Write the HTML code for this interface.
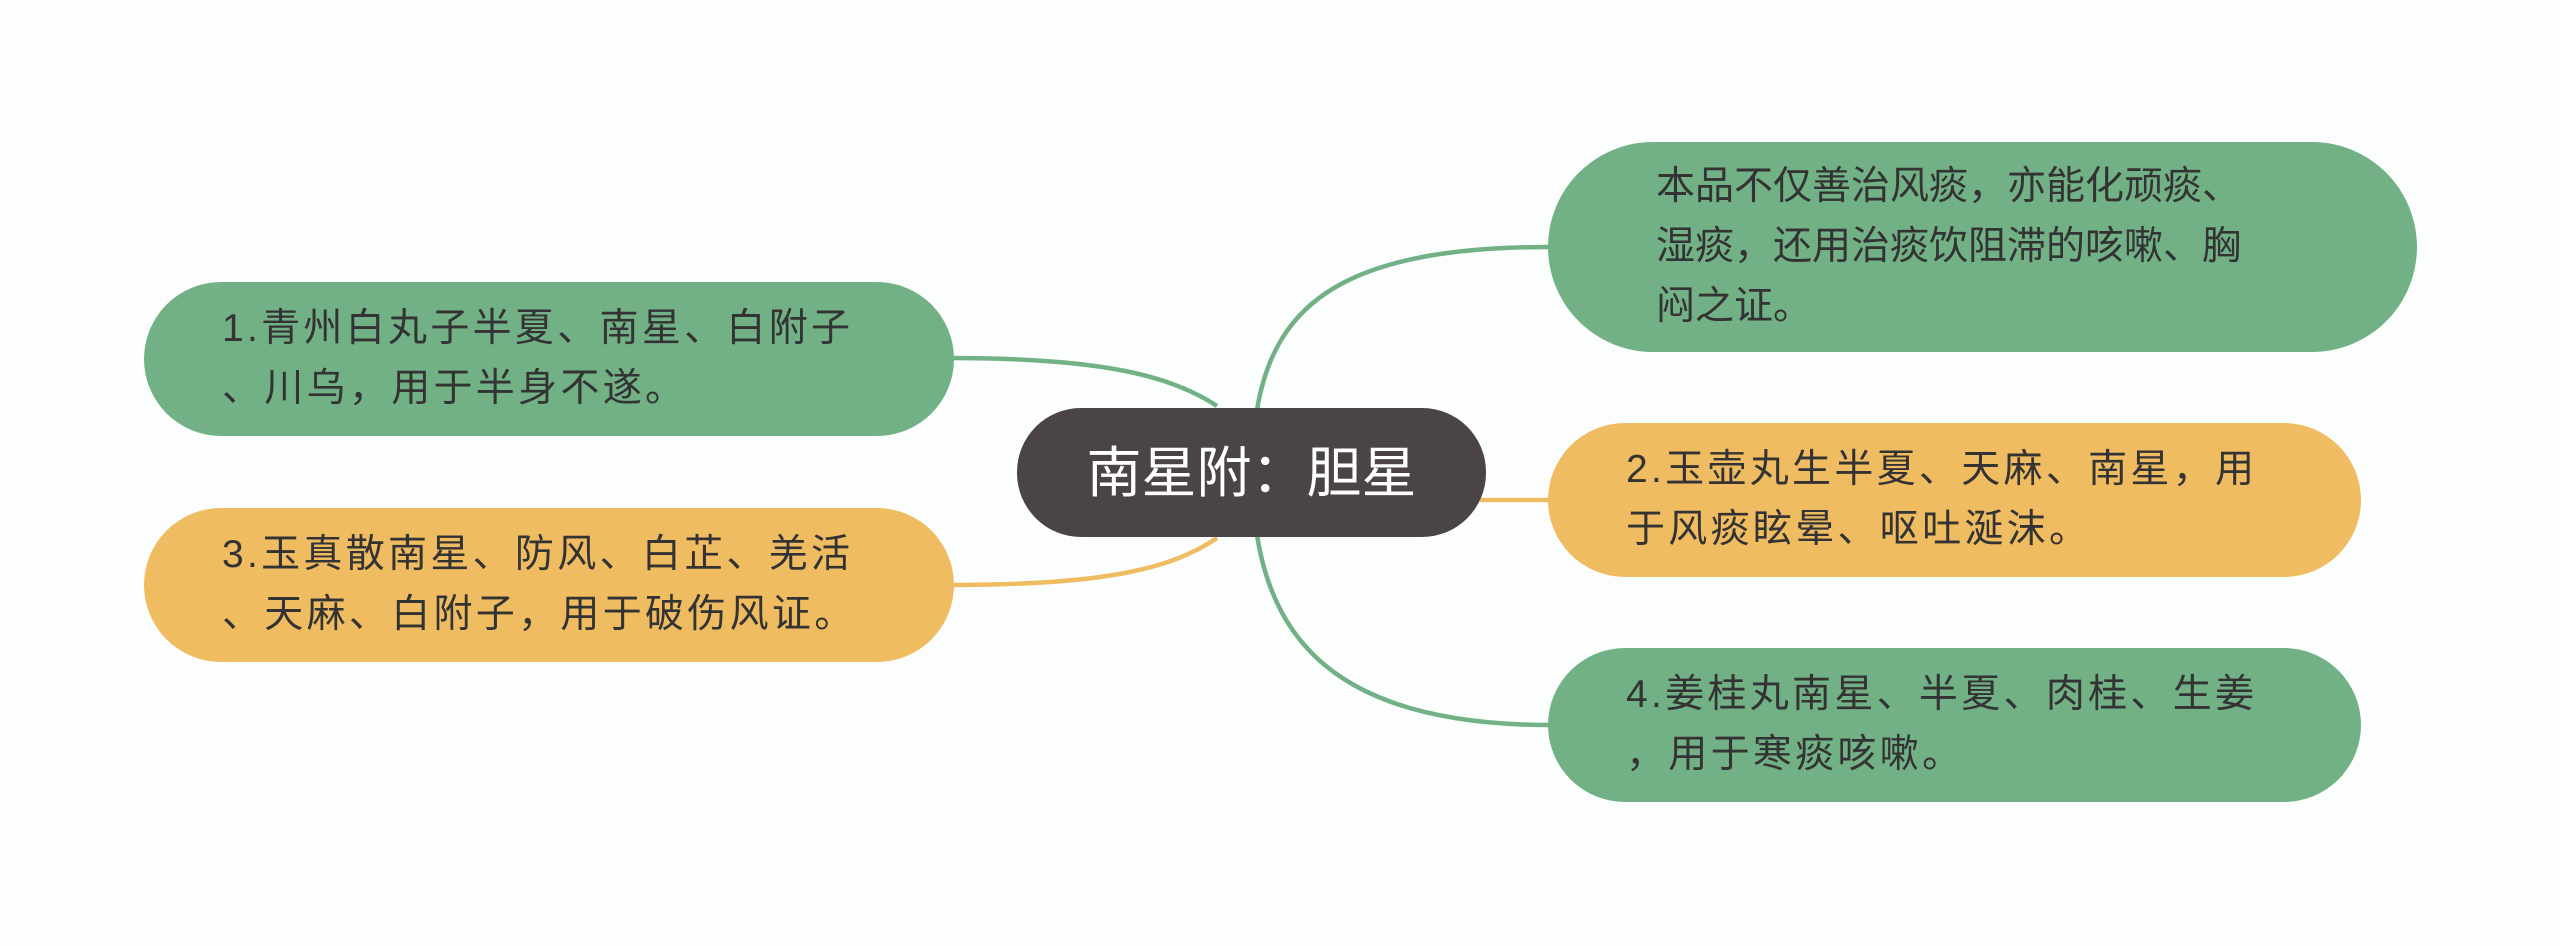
<!DOCTYPE html>
<html><head><meta charset="utf-8"><style>
body{margin:0;width:2560px;height:946px;background:#fcfefe;position:relative;overflow:hidden;font-family:"Liberation Sans","Noto Sans CJK SC",sans-serif;}
.n{position:absolute;box-sizing:border-box;display:flex;align-items:center;color:#333;font-size:39px;line-height:60px;border-radius:80px;}
.g{background:#72b186;}
.o{background:#f0bc62;}
.s{letter-spacing:3.3px;}
svg{position:absolute;left:0;top:0;}
</style></head><body>
<svg width="2560" height="946" fill="none" stroke-width="4.5">
<path d="M1257 410 C1275 300,1350 247,1550 247" stroke="#72b186"/>
<path d="M1217 406 C1170 375,1100 358,950 358" stroke="#72b186"/>
<path d="M1217 538 C1170 570,1100 585,950 585" stroke="#f0bc62"/>
<path d="M1480 500 L1552 500" stroke="#f0bc62"/>
<path d="M1257 535 C1275 650,1350 725,1550 725" stroke="#72b186"/>
</svg>
<div class="n" style="left:1017px;top:408px;width:469px;height:129px;background:#4a4444;color:#fff;font-size:55px;justify-content:center;border-radius:64px;">南星附：胆星</div>
<div class="n g" style="left:1548px;top:142px;width:869px;height:210px;padding-left:108px;border-radius:105px;">本品不仅善治风痰，亦能化顽痰、<br>湿痰，还用治痰饮阻滞的咳嗽、胸<br>闷之证。</div>
<div class="n g s" style="left:144px;top:282px;width:810px;height:154px;padding-left:78px;">1.青州白丸子半夏、南星、白附子<br>、川乌，用于半身不遂。</div>
<div class="n o s" style="left:144px;top:508px;width:810px;height:154px;padding-left:78px;">3.玉真散南星、防风、白芷、羌活<br>、天麻、白附子，用于破伤风证。</div>
<div class="n o s" style="left:1548px;top:423px;width:813px;height:154px;padding-left:78px;">2.玉壶丸生半夏、天麻、南星，用<br>于风痰眩晕、呕吐涎沫。</div>
<div class="n g s" style="left:1548px;top:648px;width:813px;height:154px;padding-left:78px;">4.姜桂丸南星、半夏、肉桂、生姜<br>，用于寒痰咳嗽。</div>
</body></html>
